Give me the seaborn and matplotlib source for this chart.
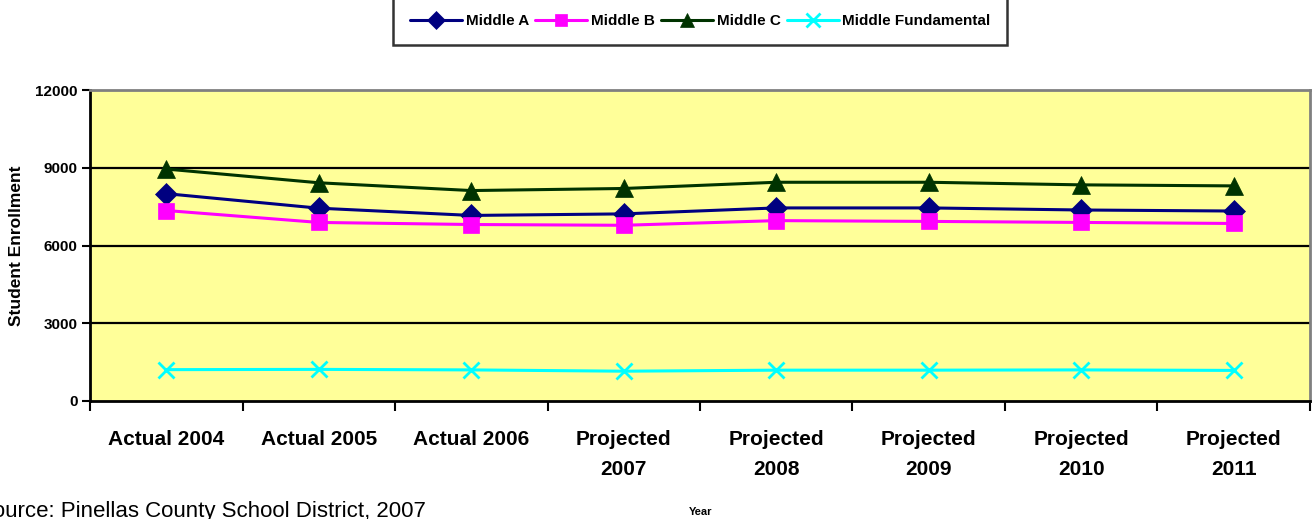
import matplotlib
matplotlib.use("Agg")
import matplotlib.pyplot as plt
import seaborn as sns
import pandas as pd
from matplotlib.ticker import FixedLocator, NullFormatter
from matplotlib.lines import Line2D

categories = ["Actual 2004", "Actual 2005", "Actual 2006", "Projected\n2007",
              "Projected\n2008", "Projected\n2009", "Projected\n2010", "Projected\n2011"]
middle_a = [8000, 7440, 7160, 7220, 7450, 7450, 7370, 7330]
middle_b = [7350, 6890, 6810, 6780, 6960, 6930, 6890, 6850]
middle_c = [8950, 8420, 8120, 8200, 8440, 8440, 8340, 8300]
middle_f = [1210, 1220, 1200, 1150, 1190, 1190, 1200, 1180]
series_names = ["Middle A", "Middle B", "Middle C", "Middle Fundamental"]
y_ticks = [0, 3000, 6000, 9000, 12000]

colors = {"Middle A": "#000080", "Middle B": "#FF00FF",
          "Middle C": "#003300", "Middle Fundamental": "#00FFFF"}
markers = {"Middle A": "D", "Middle B": "s", "Middle C": "^", "Middle Fundamental": "x"}
msizes = {"Middle A": 11, "Middle B": 11, "Middle C": 12.5, "Middle Fundamental": 12}

sns.set_theme(style="white")
plt.rcParams["font.family"] = ["Liberation Sans", "DejaVu Sans"]
plt.rcParams["text.color"] = "black"
plt.rcParams["axes.labelcolor"] = "black"
plt.rcParams["xtick.color"] = "black"
plt.rcParams["ytick.color"] = "black"

fig = plt.figure(figsize=(13.14, 5.19), dpi=100)
ax = fig.add_axes([90/1314, 1-401/519, 1220/1314, 311/519])
ax.set_facecolor("#FFFF99")

pos = list(range(len(categories)))
for name, vals in zip(series_names, [middle_a, middle_b, middle_c, middle_f]):
    df = pd.DataFrame({"x": pos, "y": vals})
    sns.lineplot(data=df, x="x", y="y", ax=ax, color=colors[name], linewidth=2.2,
                 marker=markers[name], markersize=msizes[name],
                 markeredgecolor=colors[name], markeredgewidth=2 if name == "Middle Fundamental" else 0.5,
                 label=None, legend=False)

ax.set_xlim(-0.5, len(categories) - 0.5)
ax.set_ylim(0, 12000)
ax.set_yticks(y_ticks)
ax.set_yticklabels([str(v) for v in y_ticks], fontweight="bold", fontsize=11, color="black")
for v in y_ticks[1:-1]:
    ax.axhline(v, color="black", linewidth=1.6, zorder=0.5)

ax.set_xticks(pos)
ax.set_xticklabels(categories, fontweight="bold", fontsize=15, linespacing=1.75, color="black")
ax.tick_params(axis="x", which="major", length=0, pad=21)
ax.xaxis.set_minor_locator(FixedLocator([i - 0.5 for i in range(len(categories) + 1)]))
ax.xaxis.set_minor_formatter(NullFormatter())
ax.tick_params(axis="x", which="minor", length=7, width=1.5, color="black", direction="out", bottom=True)
ax.tick_params(axis="y", which="major", length=6, width=1.5, color="black", direction="out", left=True, pad=3)

for side in ["left", "bottom"]:
    ax.spines[side].set_color("black")
    ax.spines[side].set_linewidth(2)
for side in ["top", "right"]:
    ax.spines[side].set_color("#808080")
    ax.spines[side].set_linewidth(2)
    ax.spines[side].set_visible(True)

ax.set_xlabel("")
ax.set_ylabel("Student Enrollment", fontweight="bold", fontsize=12.5, labelpad=8, color="black")
ax.grid(False)

handles = [Line2D([0], [0], color=colors[n], linewidth=2.2, marker=markers[n],
                  markersize=msizes[n] * 0.85, markeredgecolor=colors[n],
                  markeredgewidth=2 if n == "Middle Fundamental" else 0.5)
           for n in series_names]
leg = fig.legend(handles, series_names, ncol=4, loc="lower center",
                 bbox_to_anchor=(0.533, 1 - 45/519), frameon=True, fancybox=False,
                 prop={"weight": "bold", "size": 11}, handlelength=3.4,
                 handletextpad=0.25, columnspacing=0.4, borderpad=1.1, borderaxespad=0,
                 labelcolor="black")
leg.get_frame().set_edgecolor("black")
leg.get_frame().set_linewidth(1.8)
leg.get_frame().set_facecolor("white")

fig.text(0.533, 1 - 512/519, "Year", fontweight="bold", fontsize=8, ha="center", va="center",
         color="black")
fig.text(-22/1314, 1 - 517/519, "Source: Pinellas County School District, 2007",
         fontsize=16, ha="left", va="baseline", color="black")

fig.savefig("out.png", dpi=100)
